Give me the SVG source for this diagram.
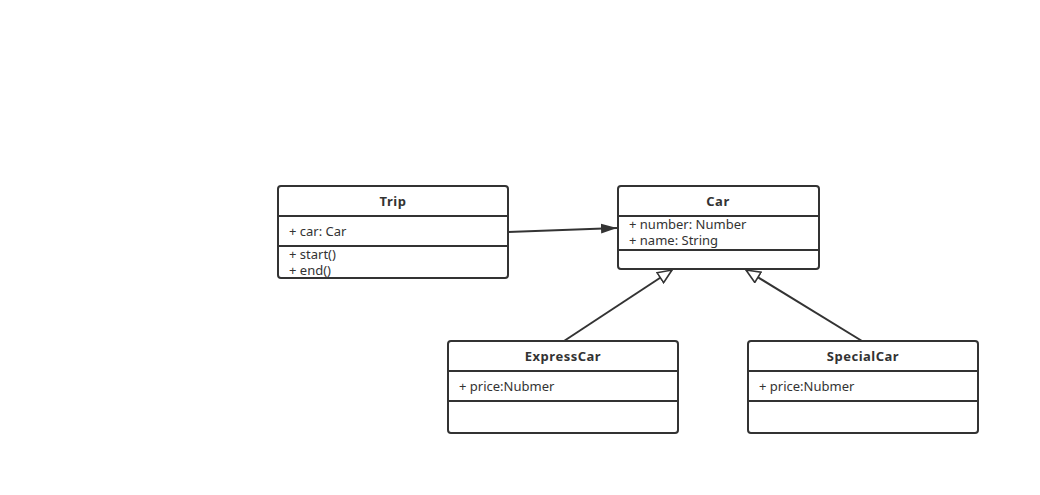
<svg xmlns="http://www.w3.org/2000/svg" width="1040" height="495" viewBox="0 0 1040 495">
  <style>
    .box { fill: #ffffff; stroke: #333333; stroke-width: 2; }
    .sep { stroke: #333333; stroke-width: 2; }
    .title { font-family: "Noto Sans", "Open Sans", sans-serif; font-size: 13px; font-weight: bold; fill: #333333; text-anchor: middle; letter-spacing: 0.5px; }
    .attr { font-family: "Noto Sans", "Open Sans", sans-serif; font-size: 13px; fill: #333333; }
    .edge { stroke: #333333; stroke-width: 2; fill: none; }
  </style>
  <defs>
    <marker id="assoc" viewBox="0 0 16 12" refX="16" refY="6" markerWidth="16" markerHeight="12" markerUnits="userSpaceOnUse" orient="auto">
      <path d="M0,1 L16,6 L0,11 Z" fill="#333333"/>
    </marker>
    <marker id="inherit" viewBox="0 0 16 14" refX="15" refY="7" markerWidth="16" markerHeight="14" markerUnits="userSpaceOnUse" orient="auto">
      <path d="M1,1 L15,7 L1,13 Z" fill="#ffffff" stroke="#333333" stroke-width="1.6"/>
    </marker>
  </defs>
  <rect width="1040" height="495" fill="#ffffff"/>

  <g id="connectors">
    <line class="edge" x1="508" y1="232" x2="617" y2="228" marker-end="url(#assoc)"/>
    <line class="edge" x1="564" y1="341" x2="672" y2="270" marker-end="url(#inherit)"/>
    <line class="edge" x1="862" y1="341" x2="746" y2="270" marker-end="url(#inherit)"/>
  </g>

  <g id="trip">
    <rect class="box" x="278" y="186" width="230" height="92" rx="3"/>
    <line class="sep" x1="278" y1="216" x2="508" y2="216"/>
    <line class="sep" x1="278" y1="246" x2="508" y2="246"/>
    <text class="title" x="393" y="206">Trip</text>
    <text class="attr" x="289" y="236">+ car: Car</text>
    <text class="attr" x="289" y="259">+ start()</text>
    <text class="attr" x="289" y="275">+ end()</text>
  </g>

  <g id="car">
    <rect class="box" x="618" y="186" width="201" height="83" rx="3"/>
    <line class="sep" x1="618" y1="216" x2="819" y2="216"/>
    <line class="sep" x1="618" y1="250" x2="819" y2="250"/>
    <text class="title" x="718" y="206">Car</text>
    <text class="attr" x="629" y="229">+ number: Number</text>
    <text class="attr" x="629" y="245">+ name: String</text>
  </g>

  <g id="expresscar">
    <rect class="box" x="448" y="341" width="230" height="92" rx="3"/>
    <line class="sep" x1="448" y1="371" x2="678" y2="371"/>
    <line class="sep" x1="448" y1="401" x2="678" y2="401"/>
    <text class="title" x="563" y="361">ExpressCar</text>
    <text class="attr" x="459" y="391">+ price:Nubmer</text>
  </g>

  <g id="specialcar">
    <rect class="box" x="748" y="341" width="230" height="92" rx="3"/>
    <line class="sep" x1="748" y1="371" x2="978" y2="371"/>
    <line class="sep" x1="748" y1="401" x2="978" y2="401"/>
    <text class="title" x="863" y="361">SpecialCar</text>
    <text class="attr" x="759" y="391">+ price:Nubmer</text>
  </g>
</svg>
